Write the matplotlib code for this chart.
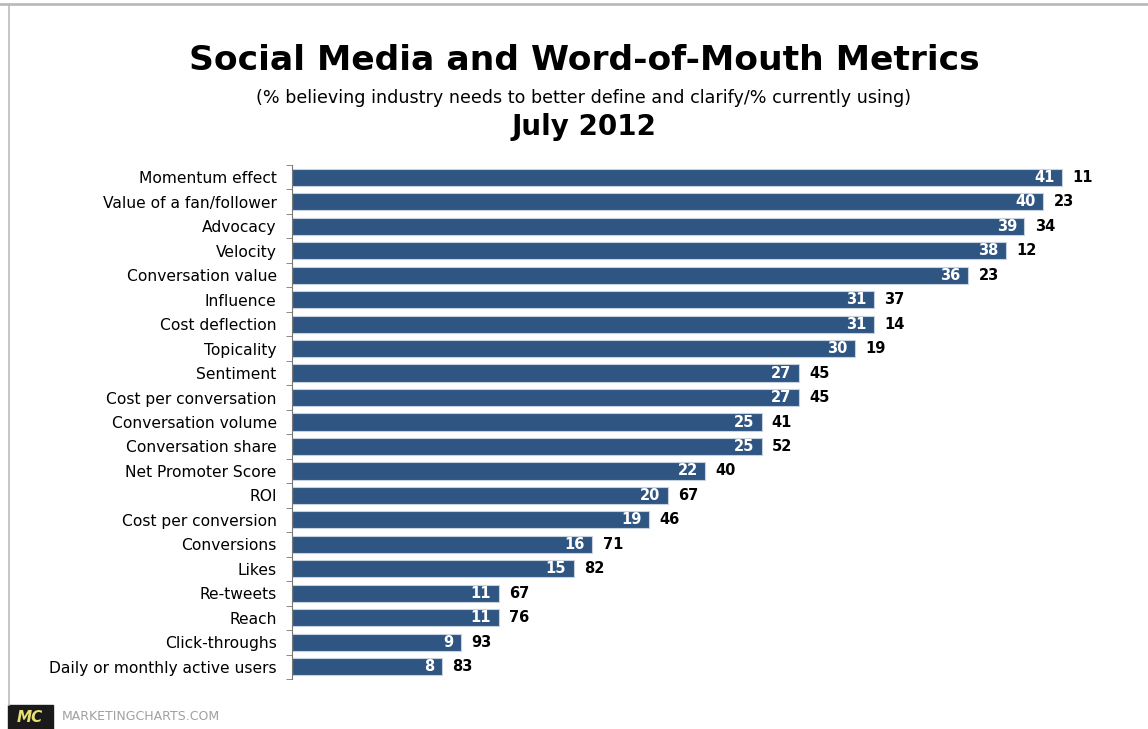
import matplotlib.pyplot as plt
from matplotlib.patches import Rectangle

categories = [
    "Momentum effect", "Value of a fan/follower", "Advocacy", "Velocity",
    "Conversation value", "Influence", "Cost deflection", "Topicality",
    "Sentiment", "Cost per conversation", "Conversation volume",
    "Conversation share", "Net Promoter Score", "ROI", "Cost per conversion",
    "Conversions", "Likes", "Re-tweets", "Reach", "Click-throughs",
    "Daily or monthly active users",
]
need_define = [41, 40, 39, 38, 36, 31, 31, 30, 27, 27, 25, 25, 22, 20, 19, 16, 15, 11, 11, 9, 8]
currently_using = [11, 23, 34, 12, 23, 37, 14, 19, 45, 45, 41, 52, 40, 67, 46, 71, 82, 67, 76, 93, 83]

BAR = "#2f5582"
W, H = 1148, 729

fig = plt.figure(figsize=(W / 100, H / 100), dpi=100)
ax = fig.add_axes([292 / W, 1 - 679 / H, 1 - 292 / W, (679 - 165) / H])

ypos = list(range(len(categories)))
ax.barh(ypos, need_define, height=0.7, color=BAR, edgecolor="#c8d2de", linewidth=0.8)
ax.set_xlim(0, (W - 292) / 18.78)
ax.set_ylim(len(categories) - 0.5, -0.5)

for y, a, b in zip(ypos, need_define, currently_using):
    ax.text(a - 0.4, y, str(a), ha="right", va="center", color="white",
            fontsize=10.5, fontweight="bold")
    ax.text(a + 0.55, y, str(b), ha="left", va="center", color="black",
            fontsize=10.5, fontweight="bold")

ax.set_yticks(ypos)
ax.set_yticklabels(categories, fontsize=11.2)
ax.tick_params(axis="y", which="major", length=0, pad=11)
ax.set_yticks([i + 0.5 for i in range(-1, len(categories))], minor=True)
ax.tick_params(axis="y", which="minor", length=4, color="#777777")
ax.set_xticks([])
for s in ["top", "right", "bottom"]:
    ax.spines[s].set_visible(False)
ax.spines["left"].set_color("#777777")
ax.spines["left"].set_linewidth(0.8)

cx = 584 / W
fig.text(cx, 1 - 60 / H, "Social Media and Word-of-Mouth Metrics", ha="center",
         va="center", fontsize=24.8, fontweight="bold")
fig.text(cx, 1 - 98 / H,
         "(% believing industry needs to better define and clarify/% currently using)",
         ha="center", va="center", fontsize=12.6)
fig.text(cx, 1 - 127 / H, "July 2012", ha="center", va="center",
         fontsize=20, fontweight="bold")

# frame and footer
fig.add_artist(plt.Line2D([0, 1], [1 - 4 / H, 1 - 4 / H], color="#bbbbbb", lw=2,
                          transform=fig.transFigure))
fig.add_artist(plt.Line2D([9 / W, 9 / W], [1 - 4 / H, 1 - 705 / H], color="#bbbbbb",
                          lw=1.2, transform=fig.transFigure))
fig.add_artist(Rectangle((8 / W, 1 - 729 / H), 45 / W, 24 / H, color="#1a1a1a",
                         transform=fig.transFigure))
fig.text(30 / W, 1 - 717 / H, "MC", ha="center", va="center", color="#e8e070",
         fontsize=11, fontweight="bold", style="italic")
fig.text(62 / W, 1 - 717 / H, "MARKETINGCHARTS.COM", ha="left", va="center",
         color="#a0a0a0", fontsize=9)

fig.savefig("out.png", dpi=100)
